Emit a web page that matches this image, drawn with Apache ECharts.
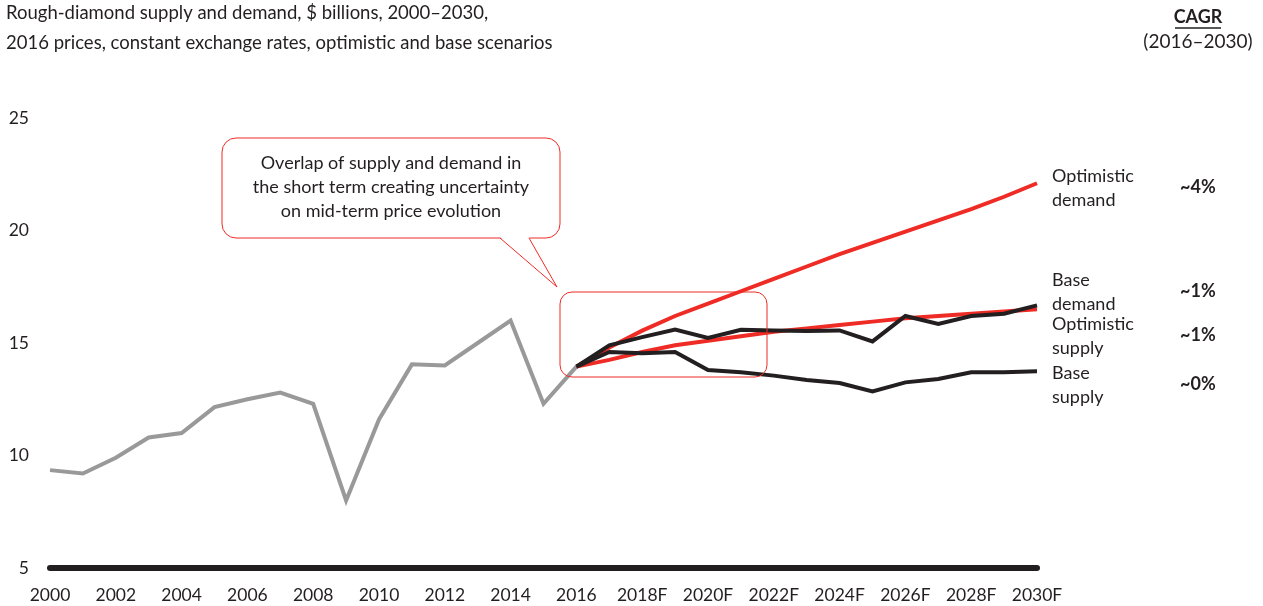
<!DOCTYPE html>
<html>
<head>
<meta charset="utf-8">
<script src="https://cdn.jsdelivr.net/npm/echarts@6/dist/echarts.min.js"></script>
<style>
  html, body { margin: 0; background: #fff; }
  #main { width: 1263px; height: 606px; }
</style>
</head>
<body>
<div id="main"></div>
<script>
// x categories, 2000 - 2030F
const years = ['2000', '2001', '2002', '2003', '2004', '2005', '2006', '2007', '2008', '2009',
  '2010', '2011', '2012', '2013', '2014', '2015', '2016', '2017F', '2018F', '2019F',
  '2020F', '2021F', '2022F', '2023F', '2024F', '2025F', '2026F', '2027F', '2028F', '2029F', '2030F']

// historic 2000-2016
const history = [9.35, 9.2, 9.9, 10.8, 11.0, 12.15, 12.5, 12.8, 12.3, 8.0,
  11.6, 14.05, 14.0, 15.0, 16.0, 12.3, 13.95]

// forecasts 2016-2030
const optDemand = [13.95, 14.8, 15.55, 16.2, 16.75, 17.3, 17.85, 18.4, 18.95, 19.45, 19.95, 20.45, 20.95, 21.5, 22.1]
const baseDemand = [13.95, 14.25, 14.6, 14.9, 15.1, 15.3, 15.5, 15.65, 15.8, 15.95, 16.1, 16.2, 16.3, 16.4, 16.5]
const optSupply = [13.95, 14.9, 15.26, 15.6, 15.23, 15.59, 15.56, 15.53, 15.56, 15.07, 16.2, 15.85, 16.2, 16.3, 16.67]
const baseSupply = [13.95, 14.6, 14.55, 14.6, 13.8, 13.7, 13.55, 13.36, 13.22, 12.85, 13.25, 13.4, 13.7, 13.7, 13.74]

const endLabels = ['Optimistic\ndemand', 'Base\ndemand', 'Optimistic\nsupply', 'Base\nsupply']
const cagr = ['~4%', '~1%', '~1%', '~0%']

const FONT = 'Lato'
const INK = '#231f20'
const RED = '#ee2b24'

// history runs from the start, forecasts end at 2030F
const padEnd = (arr) => arr.concat(new Array(years.length - arr.length).fill(null))
const padStart = (arr) => new Array(years.length - arr.length).fill(null).concat(arr)

const lineSeries = (name, data, color, z) => ({
  name: name,
  type: 'line',
  data: data,
  symbol: 'none',
  z: z,
  lineStyle: { color: color, width: 4, join: 'miter' },
  silent: true
})

const labelY = [189, 293, 337, 386]

const options = {
  animation: false,
  title: {
    text: 'Rough-diamond supply and demand, $ billions, 2000–2030,\n2016 prices, constant exchange rates, optimistic and base scenarios',
    left: 6,
    top: -2,
    padding: 0,
    textStyle: { fontFamily: FONT, fontSize: 18.5, fontWeight: 'normal', color: INK, lineHeight: 30 }
  },
  grid: {
    left: 50,
    right: 226,
    top: 118,
    bottom: 38,
    containLabel: false
  },
  xAxis: {
    type: 'category',
    data: years,
    boundaryGap: false,
    axisLine: { lineStyle: { color: INK, width: 6 } },
    axisTick: { show: false },
    axisLabel: {
      interval: 1,
      margin: 18,
      fontFamily: FONT,
      fontSize: 17.5,
      color: INK
    }
  },
  yAxis: {
    type: 'value',
    min: 5,
    max: 25,
    interval: 5,
    splitLine: { show: false },
    axisLine: { show: false },
    axisTick: { show: false },
    axisLabel: { margin: 21, fontFamily: FONT, fontSize: 17.5, color: INK }
  },
  series: [
    lineSeries('History', padEnd(history), '#999999', 2),
    lineSeries('Optimistic demand', padStart(optDemand), RED, 3),
    lineSeries('Base demand', padStart(baseDemand), RED, 3),
    lineSeries('Base supply', padStart(baseSupply), INK, 4),
    lineSeries('Optimistic supply', padStart(optSupply), INK, 4)
  ],
  graphic: [
    // CAGR header
    {
      type: 'text', x: 1198, y: 8,
      style: { text: 'CAGR', font: 'bold 18px ' + FONT, fill: INK, align: 'center' }
    },
    {
      type: 'line', shape: { x1: 1175, y1: 28, x2: 1221, y2: 28 },
      style: { stroke: INK, lineWidth: 1.5 }
    },
    {
      type: 'text', x: 1198, y: 32,
      style: { text: '(2016–2030)', font: '19px ' + FONT, fill: INK, align: 'center' }
    },
    // callout bubble
    {
      type: 'rect', z: 10,
      shape: { x: 222, y: 138, width: 338, height: 100, r: 14 },
      style: { fill: '#fff', stroke: RED, lineWidth: 1 }
    },
    {
      type: 'polygon', z: 11,
      shape: { points: [[500, 237], [557, 287], [529, 237]] },
      style: { fill: '#fff' }
    },
    {
      type: 'polyline', z: 12,
      shape: { points: [[500, 238], [557, 287], [529, 238]] },
      style: { stroke: RED, lineWidth: 1, fill: null }
    },
    {
      type: 'text', z: 13, x: 391, y: 151,
      style: {
        text: 'Overlap of supply and demand in\nthe short term creating uncertainty\non mid-term price evolution',
        align: 'center',
        font: '18px ' + FONT, fill: INK, lineHeight: 24
      }
    },
    // highlight box
    {
      type: 'rect', z: 20,
      shape: { x: 560, y: 292, width: 207, height: 85, r: 12 },
      style: { fill: null, stroke: RED, lineWidth: 1 }
    }
  ].concat(endLabels.map((t, i) => ({
    type: 'text', x: 1052, y: labelY[i] - 25,
    style: { text: t, font: '18px ' + FONT, fill: INK, lineHeight: 24 }
  }))).concat(cagr.map((t, i) => ({
    type: 'text', x: 1180, y: labelY[i] - 11,
    style: { text: t, font: 'bold 18px ' + FONT, fill: INK }
  })))
}

const chart = echarts.init(document.getElementById('main'))
chart.setOption(options)
window.addEventListener('resize', function () {
  chart.resize()
})
</script>
</body>
</html>
